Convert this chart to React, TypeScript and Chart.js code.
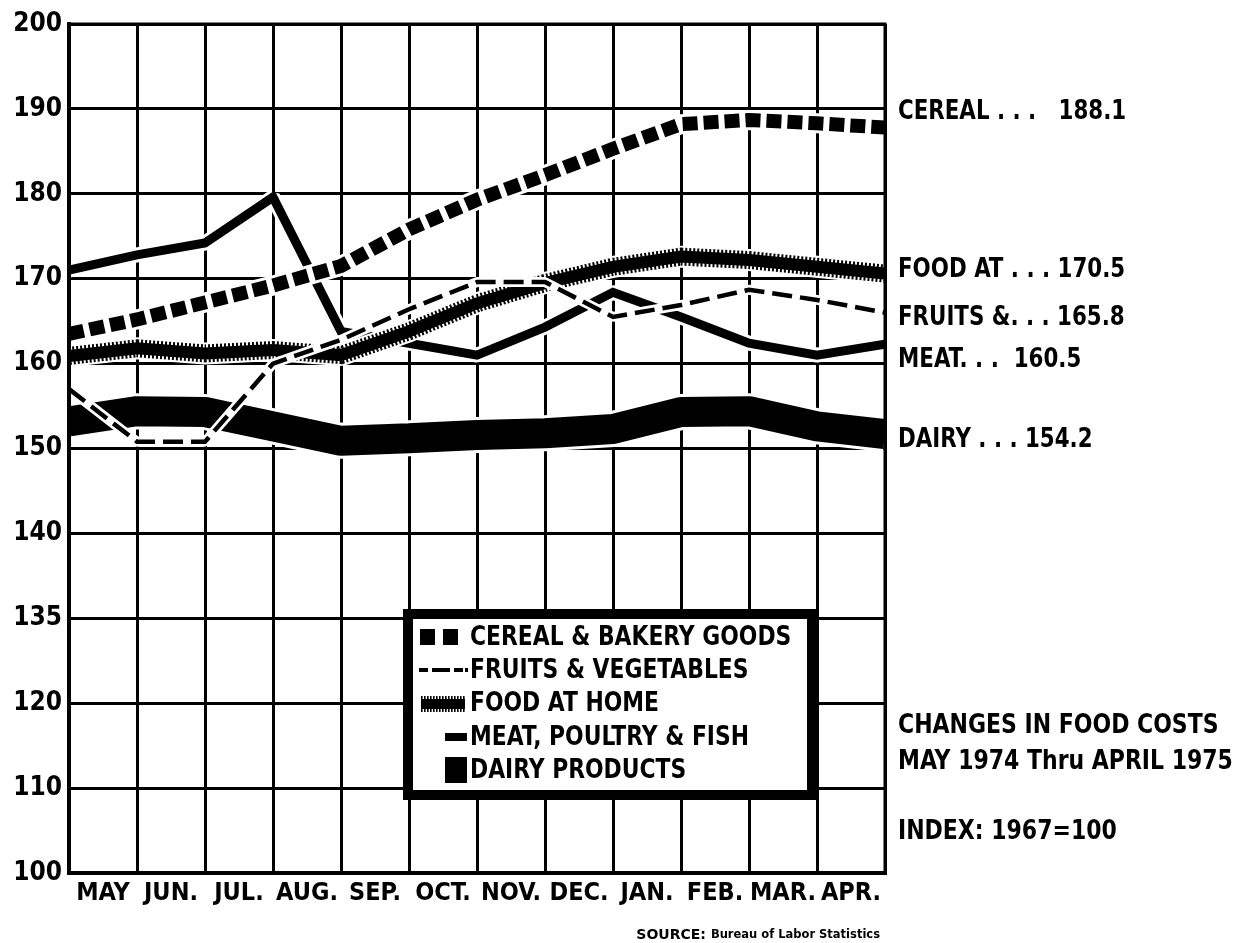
import React, { useEffect, useRef } from "react";
import { Chart, registerables } from "chart.js";

Chart.register(...registerables);

// ---- Data ----
const months = ["MAY", "JUN.", "JUL.", "AUG.", "SEP.", "OCT.", "NOV.", "DEC.", "JAN.", "FEB.", "MAR.", "APR."];
const yTickLabels = ["100", "110", "120", "135", "140", "150", "160", "170", "180", "190", "200"];

const cereal = [163.5, 165.2, 167.2, 169.2, 171.5, 175.8, 179.3, 182.2, 185.3, 188.2, 188.7, 188.3, 187.8];
const fruits = [157.0, 150.8, 150.8, 160.0, 162.8, 166.4, 169.6, 169.6, 165.5, 166.9, 168.7, 167.5, 166.0];
const food = [160.9, 161.8, 161.2, 161.6, 161.0, 163.8, 167.1, 169.5, 171.4, 172.6, 172.2, 171.4, 170.6];
const meat = [171.0, 172.8, 174.2, 179.6, 163.8, 162.4, 161.0, 164.3, 168.4, 165.5, 162.4, 161.0, 162.3];
const dairy = [153.2, 154.4, 154.3, 152.6, 150.9, 151.2, 151.6, 151.8, 152.3, 154.3, 154.4, 152.6, 151.7];

const legendLabels = ["CEREAL & BAKERY GOODS", "FRUITS & VEGETABLES", "FOOD AT HOME", "MEAT, POULTRY & FISH", "DAIRY PRODUCTS"];
const endLabels = ["CEREAL . . .   188.1", "FOOD AT . . . 170.5", "FRUITS &. . . 165.8", "MEAT. . .  160.5", "DAIRY . . . 154.2"];
const titleLines = ["CHANGES IN FOOD COSTS", "MAY 1974 Thru APRIL 1975"];
const indexNote = "INDEX: 1967=100";
const sourceLabel = "SOURCE:";
const sourceText = "Bureau of Labor Statistics";

const FAMILY = "'DejaVu Sans Condensed', 'Liberation Sans Narrow', 'Roboto Condensed', 'DejaVu Sans', sans-serif";
const WIDE = "'DejaVu Sans', 'Liberation Sans', sans-serif";
const font = (size: number) => `bold ${size}px ${FAMILY}`;

const pts = (arr: number[]) => arr.map((y, i) => ({ x: i, y }));

function drawText(ctx: CanvasRenderingContext2D, text: string, x: number, y: number, size: number, sx: number) {
  ctx.save();
  ctx.translate(x, y);
  ctx.scale(sx, 1);
  ctx.font = font(size);
  ctx.fillText(text, 0, 0);
  ctx.restore();
}

export default function App() {
  const ref = useRef<HTMLCanvasElement | null>(null);

  useEffect(() => {
    if (!ref.current) return;

    const decorPlugin = {
      id: "decor",
      beforeDraw(chart: any) {
        const ctx = chart.ctx;
        ctx.save();
        ctx.fillStyle = "#fff";
        ctx.fillRect(0, 0, chart.width, chart.height);
        ctx.restore();
      },
      afterDatasetsDraw(chart: any) {
        const ctx = chart.ctx as CanvasRenderingContext2D;
        const a = chart.chartArea;
        ctx.save();
        // top & right frame
        ctx.strokeStyle = "#000";
        ctx.lineWidth = 3;
        ctx.beginPath();
        ctx.moveTo(a.left, a.top);
        ctx.lineTo(a.right, a.top);
        ctx.lineTo(a.right, a.bottom);
        ctx.stroke();

        // legend box
        ctx.fillStyle = "#fff";
        ctx.fillRect(408, 614, 404, 181);
        ctx.lineWidth = 10;
        ctx.strokeRect(408, 614, 404, 181);

        ctx.fillStyle = "#000";
        ctx.textBaseline = "middle";
        ctx.textAlign = "left";
        const rows = [637, 670, 703, 737, 770];
        legendLabels.forEach((t, i) => drawText(ctx, t, 470, rows[i] + 1, 27, 0.9));
        // symbols
        ctx.fillRect(420, 629, 15, 16);
        ctx.fillRect(443, 629, 15, 16);
        ctx.fillRect(419, 668, 9, 4);
        ctx.fillRect(432, 668, 18, 4);
        ctx.fillRect(454, 668, 9, 4);
        ctx.fillRect(465, 668, 3, 4);
        ctx.fillRect(421, 699, 44, 10);
        for (let x = 421; x < 466; x += 3) {
          ctx.fillRect(x, 696, 1.6, 16);
        }
        ctx.fillRect(445, 733, 22, 8);
        ctx.fillRect(445, 757, 22, 26);

        // end labels
        const ys = [112, 270, 318, 360, 440];
        endLabels.forEach((t, i) => drawText(ctx, t, 898, ys[i], 27, 0.88));
        drawText(ctx, titleLines[0], 898, 726, 26, 0.94);
        drawText(ctx, titleLines[1], 898, 762, 26, 0.94);
        drawText(ctx, indexNote, 898, 832, 26, 0.94);

        // source
        ctx.font = `bold 14px ${WIDE}`;
        const w1 = ctx.measureText(sourceLabel).width + 5;
        ctx.font = `bold 11.5px ${WIDE}`;
        const w2 = ctx.measureText(sourceText).width;
        const x0 = 880 - w1 - w2;
        ctx.font = `bold 14px ${WIDE}`;
        ctx.fillText(sourceLabel, x0, 935);
        ctx.font = `bold 11.5px ${WIDE}`;
        ctx.fillText(sourceText, x0 + w1, 935);
        ctx.restore();
      },
    };

    const halo = (data: number[], w: number, order: number) => ({
      label: "",
      data: pts(data),
      borderColor: "#fff",
      borderWidth: w,
      pointRadius: 0,
      fill: false,
      tension: 0,
      clip: 0,
      order,
      borderJoinStyle: "bevel" as const,
    });

    const chart = new Chart(ref.current, {
      type: "line",
      data: {
        datasets: [
          halo(dairy, 36, 12),
          { label: legendLabels[4], data: pts(dairy), borderColor: "#000", borderWidth: 30, pointRadius: 0, tension: 0, clip: 0, order: 11, borderJoinStyle: "bevel" },
          halo(meat, 15, 10),
          { label: legendLabels[3], data: pts(meat), borderColor: "#000", borderWidth: 9, pointRadius: 0, tension: 0, clip: 0, order: 9, borderJoinStyle: "miter" },
          halo(food, 22, 8),
          { label: legendLabels[2], data: pts(food), borderColor: "#000", borderWidth: 18, borderDash: [2, 2], pointRadius: 0, tension: 0, clip: 0, order: 7 },
          { label: "", data: pts(food), borderColor: "#000", borderWidth: 12, pointRadius: 0, tension: 0, clip: 0, order: 6 },
          halo(fruits, 10, 5),
          { label: legendLabels[1], data: pts(fruits), borderColor: "#000", borderWidth: 4.5, borderDash: [20, 8], pointRadius: 0, tension: 0, clip: 0, order: 4 },
          halo(cereal, 20, 3),
          { label: legendLabels[0], data: pts(cereal), borderColor: "#000", borderWidth: 14, borderDash: [15, 6], borderCapStyle: "butt", pointRadius: 0, tension: 0, clip: 0, order: 2 },
        ] as any,
      },
      options: {
        responsive: false,
        animation: false,
        events: [],
        layout: { padding: { left: 0, right: 364, top: 24, bottom: 0 } },
        plugins: { legend: { display: false }, tooltip: { enabled: false }, title: { display: false } },
        scales: {
          x: {
            type: "linear",
            min: 0,
            max: 12,
            afterFit: (s: any) => { s.height = 70; },
            ticks: {
              stepSize: 1,
              autoSkip: false,
              maxRotation: 0,
              labelOffset: 34,
              padding: 5,
              color: "#000",
              font: { family: FAMILY, weight: "bold", size: 25 },
              callback: (v: any) => months[Math.round(Number(v))] ?? "",
            },
            grid: { color: "#000", lineWidth: 3, drawTicks: false },
            border: { color: "#000", width: 4, z: 1 },
          },
          y: {
            type: "linear",
            min: 100,
            max: 200,
            afterFit: (s: any) => { s.width = 69; },
            ticks: {
              stepSize: 10,
              padding: 7,
              color: "#000",
              font: { family: FAMILY, weight: "bold", size: 26 },
              callback: (v: any) => yTickLabels[Math.round((Number(v) - 100) / 10)] ?? "",
            },
            grid: { color: "#000", lineWidth: 3, drawTicks: false },
            border: { color: "#000", width: 4, z: 1 },
          },
        },
      },
      plugins: [decorPlugin],
    });

    return () => chart.destroy();
  }, []);

  return (
    <div style={{ position: "absolute", left: 0, top: 0, width: 1249, height: 943, background: "#fff" }}>
      <canvas ref={ref} width={1249} height={943} style={{ display: "block" }} />
    </div>
  );
}
